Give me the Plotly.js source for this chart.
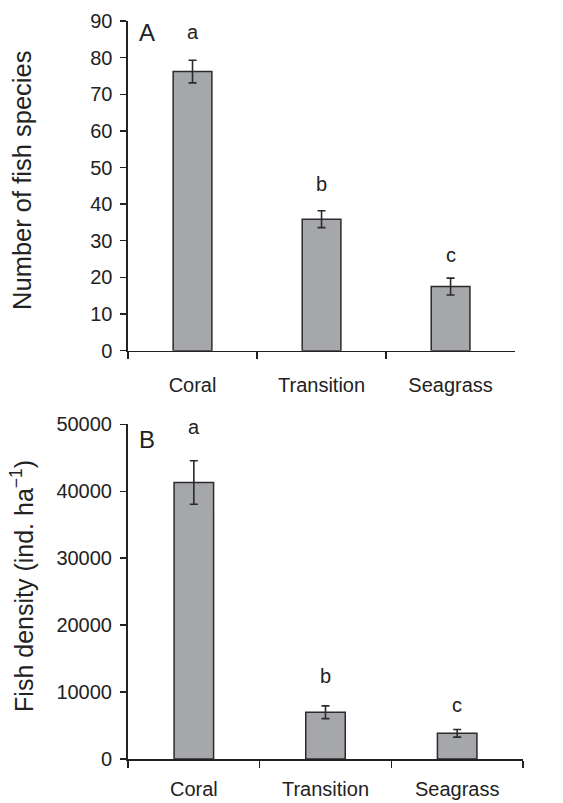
<!DOCTYPE html>
<html>
<head>
<meta charset="utf-8">
<script src="https://cdn.plot.ly/plotly-3.0.1.min.js"></script>
<style>html,body{margin:0;padding:0;background:#fff;}</style>
</head>
<body>
<div id="chart" style="width:563px;height:803px;"></div>
<script>
const categories = ["Coral", "Transition", "Seagrass"];
const speciesMean = [76.2, 35.9, 17.5];
const speciesErr = [3.1, 2.3, 2.3];
const speciesLetters = ["a", "b", "c"];
const speciesLetterY = [86.9, 45.6, 26.1];
const densityMean = [41300, 6980, 3840];
const densityErr = [3250, 950, 570];
const densityLetters = ["a", "b", "c"];
const densityLetterY = [49600, 12400, 8100];

const FONT = "Liberation Sans, Arial, Helvetica, sans-serif";
const INK = "#222222";
const barStyle = {color: "#a6a7ab", line: {color: "#2b2b2b", width: 1.5}};
const errStyle = (arr) => ({type: "data", array: arr, visible: true, color: "#2b2b2b", thickness: 1.6, width: 4});

const traces = [
  {type: "bar", x: categories, y: speciesMean, error_y: errStyle(speciesErr), marker: barStyle, width: 0.3, xaxis: "x", yaxis: "y", hoverinfo: "x+y"},
  {type: "bar", x: categories, y: densityMean, error_y: errStyle(densityErr), marker: barStyle, width: 0.3, xaxis: "x2", yaxis: "y2", hoverinfo: "x+y"}
];

const xCommon = {
  type: "category", showline: true, linecolor: INK, linewidth: 1.6,
  ticks: "outside", tickson: "boundaries", ticklen: 7, tickcolor: INK, tickwidth: 1.4,
  showgrid: false, zeroline: false, tickfont: {family: FONT, size: 20, color: INK},
  ticklabelstandoff: 16, fixedrange: true
};
const yCommon = {
  showline: true, linecolor: INK, linewidth: 1.6,
  ticks: "outside", ticklen: 6, tickcolor: INK, tickwidth: 1.4,
  showgrid: false, zeroline: false, tickfont: {family: FONT, size: 20, color: INK},
  ticklabelstandoff: 4, fixedrange: true, tickformat: "d"
};

const annotations = [];
categories.forEach((c, i) => {
  annotations.push({xref: "x", yref: "y", x: c, y: speciesLetterY[i], text: speciesLetters[i], showarrow: false, xanchor: "center", yanchor: "middle", font: {family: FONT, size: 20, color: INK}});
  annotations.push({xref: "x2", yref: "y2", x: c, y: densityLetterY[i], text: densityLetters[i], showarrow: false, xanchor: "center", yanchor: "middle", font: {family: FONT, size: 20, color: INK}});
});
annotations.push({xref: "paper", yref: "paper", x: 0.047, y: 0.985, text: "A", showarrow: false, xanchor: "center", yanchor: "middle", font: {family: FONT, size: 24, color: INK}});
annotations.push({xref: "paper", yref: "paper", x: 0.047, y: 0.433, text: "B", showarrow: false, xanchor: "center", yanchor: "middle", font: {family: FONT, size: 24, color: INK}});
annotations.push({xref: "paper", yref: "paper", x: -0.268, y: 0.7835, text: "Number of fish species", textangle: -90, showarrow: false, xanchor: "center", yanchor: "middle", font: {family: FONT, size: 25.5, color: INK}});
annotations.push({xref: "paper", yref: "paper", x: -0.268, y: 0.2347, text: "Fish density (ind. ha<sup>−1</sup>)", textangle: -90, showarrow: false, xanchor: "center", yanchor: "middle", font: {family: FONT, size: 25, color: INK}});

const layout = {
  width: 563, height: 803,
  margin: {l: 128, r: 40, t: 21, b: 44},
  paper_bgcolor: "#ffffff", plot_bgcolor: "#ffffff",
  showlegend: false,
  xaxis: Object.assign({}, xCommon, {domain: [0, 0.98], anchor: "y"}),
  yaxis: Object.assign({}, yCommon, {domain: [0.5533, 1], range: [0, 90], dtick: 10, anchor: "x"}),
  xaxis2: Object.assign({}, xCommon, {domain: [0, 1], anchor: "y2", linewidth: 2, ticklabelstandoff: 11}),
  yaxis2: Object.assign({}, yCommon, {domain: [0, 0.4535], range: [0, 50000], dtick: 10000, anchor: "x2", linewidth: 2}),
  annotations: annotations
};

Plotly.newPlot("chart", traces, layout, {displayModeBar: false, staticPlot: true});
</script>
</body>
</html>
